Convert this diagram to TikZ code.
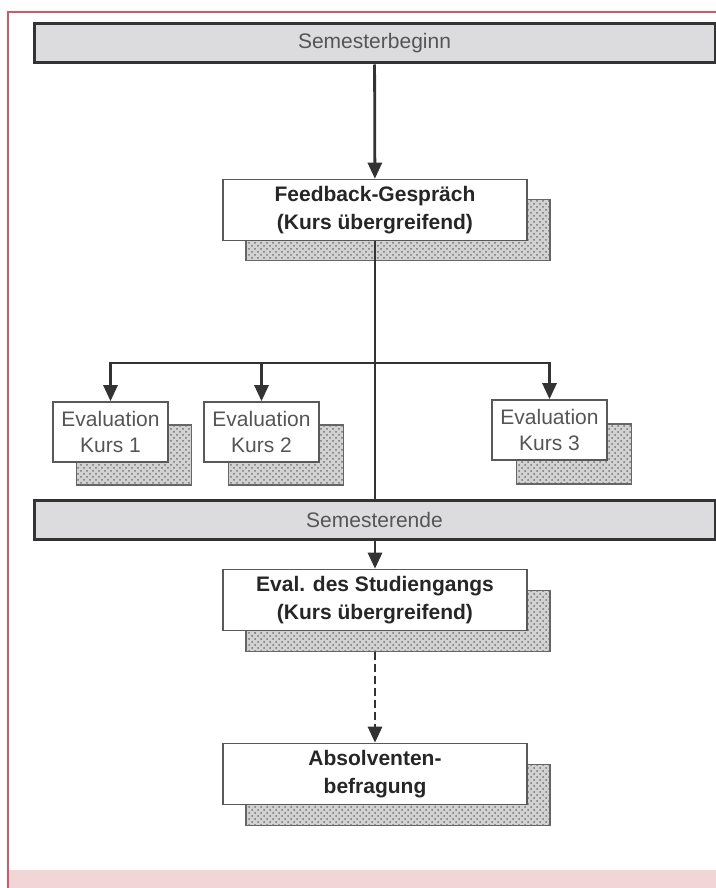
\documentclass[tikz,border=0pt]{standalone}
\usepackage{fontspec}
\setmainfont{Liberation Sans}
\usetikzlibrary{arrows.meta,patterns}

\definecolor{framered}{HTML}{D05A68}
\definecolor{bandpink}{HTML}{F2D5D7}
\definecolor{barfill}{HTML}{DCDCDE}
\definecolor{linegray}{HTML}{333333}
\definecolor{textgray}{HTML}{555555}

\tikzset{
    phase/.style={draw=linegray, line width=1.5pt, fill=barfill, minimum width=340.5pt, minimum height=19.5pt, inner sep=0pt, text=textgray, font=\fontsize{10.5}{13}\selectfont},
    mainbox/.style={draw=gray!70!black, line width=0.8pt, fill=white, minimum width=152pt, minimum height=30.5pt, inner sep=0pt, align=center, text=black!85, font=\fontsize{10.5}{14}\selectfont\bfseries},
    kursbox/.style={draw=gray!70!black, line width=0.8pt, fill=white, minimum width=57.5pt, minimum height=30pt, inner sep=0pt, align=center, text=textgray, font=\fontsize{10.5}{13}\selectfont},
    shadebox/.style={draw=gray!80!black, line width=0.6pt, preaction={fill=gray!35}, pattern=crosshatch dots, pattern color=gray!90!black, inner sep=0pt},
    conn/.style={draw=linegray, line width=1.4pt},
    arr/.style={conn, -{Triangle[length=8pt,width=7pt]}}
}

\begin{document}
\begin{tikzpicture}[x=0.5pt, y=-0.5pt]
    \useasboundingbox (0,0) rectangle (716,888);
    \fill[bandpink] (8,870) rectangle (716,888);
    \draw[framered, line width=0.8pt] (8,888) -- (8,12) -- (716,12);

    % shadows
    \node[shadebox, minimum width=152pt, minimum height=30.5pt] (fb-s) at (398,230) {};
    \node[shadebox, minimum width=152pt, minimum height=30.5pt] (ev-s) at (398,621) {};
    \node[shadebox, minimum width=152pt, minimum height=30.5pt] (ab-s) at (398,795) {};
    \node[shadebox, minimum width=57.5pt, minimum height=30pt] (k1-s) at (134,455) {};
    \node[shadebox, minimum width=57.5pt, minimum height=30pt] (k2-s) at (286,455) {};
    \node[shadebox, minimum width=57.5pt, minimum height=30pt] (k3-s) at (574,454) {};

    \node[phase] (beginn) at (374.5,43.5) {Semesterbeginn};
    \node[mainbox] (fb) at (375,210) {Feedback-Gespräch\\(Kurs übergreifend)};
    \node[kursbox] (k1) at (110.5,432) {Evaluation\\Kurs 1};
    \node[kursbox] (k2) at (261.5,432) {Evaluation\\Kurs 2};
    \node[kursbox] (k3) at (549.5,430) {Evaluation\\Kurs 3};
    \node[phase] (ende) at (374.5,520) {Semesterende};
    \node[mainbox] (ev) at (375,600) {Eval. des Studiengangs\\(Kurs übergreifend)};
    \node[mainbox] (ab) at (375,774) {Absolventen-\\befragung};

    \coordinate (branch) at (375,363);

    \draw[arr] (beginn) -- (fb);
    \draw[conn] (fb.south) -- (ende.north -| fb.south);
    \draw[arr] (branch) -| (k1);
    \draw[arr] (branch) -| (k2);
    \draw[arr] (branch) -| (k3);
    \draw[arr] (ende.south -| ev.north) -- (ev);
    \draw[arr, dash pattern=on 4pt off 2pt] (ab.north |- ev-s.south) -- (ab);
\end{tikzpicture}
\end{document}
